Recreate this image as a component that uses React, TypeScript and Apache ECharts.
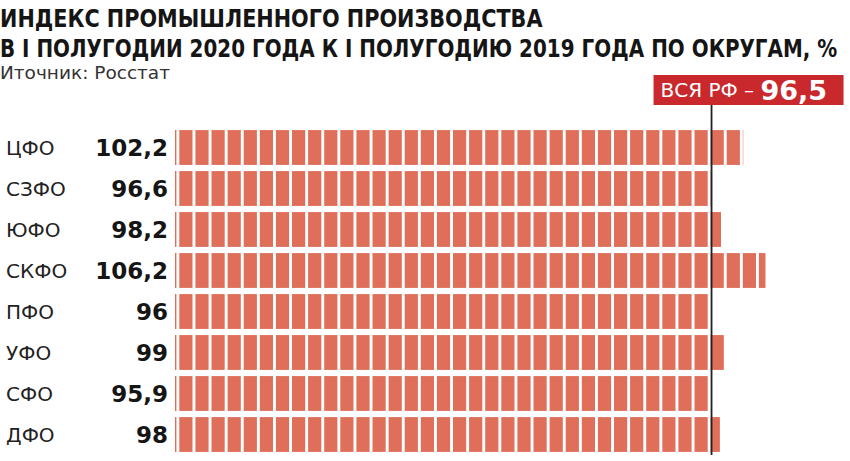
import React, { useEffect, useRef } from "react";
import * as echarts from "echarts";

const titleLines = [
  "ИНДЕКС ПРОМЫШЛЕННОГО ПРОИЗВОДСТВА",
  "В I ПОЛУГОДИИ 2020 ГОДА К I ПОЛУГОДИЮ 2019 ГОДА ПО ОКРУГАМ, %",
];
const titleWidths = [543, 838];
const sourceText = "Иточник: Росстат";
const categories = ["ЦФО", "СЗФО", "ЮФО", "СКФО", "ПФО", "УФО", "СФО", "ДФО"];
const values = [102.2, 96.6, 98.2, 106.2, 96, 99, 95.9, 98];
const russiaLabel = "ВСЯ РФ – ";
const russiaValue = 96.5;

const fmt = (v: number) => String(v).replace(".", ",");

const BAR_COLOR = "#df6e5a";
const RED = "#c9282d";
const TITLE_FONT_FAMILY = "DejaVu Sans Condensed";
const TITLE_FONT_SIZE = 25;

function measure(text: string, font: string): number {
  const c = document.createElement("canvas").getContext("2d");
  if (!c) return 1;
  c.font = font;
  return c.measureText(text).width || 1;
}

export default function App() {
  const ref = useRef<HTMLDivElement>(null);
  useEffect(() => {
    document.body.style.margin = "0";
    const chart = echarts.init(ref.current!, null, { renderer: "svg" });
    const titleFont = `bold ${TITLE_FONT_SIZE}px "${TITLE_FONT_FAMILY}"`;
    const titleGraphics = titleLines.map((line, i) => ({
      type: "text",
      x: 0,
      y: 6 + i * 30,
      scaleX: titleWidths[i] / measure(line, titleFont),
      style: {
        text: line,
        fontFamily: TITLE_FONT_FAMILY,
        fontWeight: "bold",
        fontSize: TITLE_FONT_SIZE,
        fill: "#151515",
        textVerticalAlign: "top",
        verticalAlign: "top",
      },
    }));
    const option: any = {
      animation: false,
      backgroundColor: "#ffffff",
      graphic: [
        ...titleGraphics,
        {
          type: "text",
          x: 0,
          y: 63,
          style: {
            text: sourceText,
            fontFamily: "DejaVu Sans",
            fontSize: 18.5,
            fill: "#333",
            verticalAlign: "top",
          },
        },
      ],
      grid: { left: 175, right: 7.8, top: 127, bottom: 6, containLabel: false },
      xAxis: { type: "value", min: 0, max: 120, show: false },
      yAxis: {
        type: "category",
        inverse: true,
        data: categories,
        axisLine: { show: false },
        axisTick: { show: false },
        splitLine: { show: false },
        axisLabel: {
          margin: 7,
          formatter: (name: string, i: number) => `{n|${name}}{v|${fmt(values[i])}}`,
          rich: {
            n: {
              width: 86,
              align: "left",
              fontFamily: "DejaVu Sans",
              fontSize: 20,
              color: "#222",
            },
            v: {
              width: 76,
              align: "right",
              fontFamily: "DejaVu Sans",
              fontWeight: "bold",
              fontSize: 23,
              color: "#151515",
            },
          },
        },
      },
      series: [
        {
          type: "custom",
          clip: false,
          encode: { x: 0, y: 1 },
          data: values.map((v, i) => [v, i]),
          renderItem: (params: any, api: any) => {
            const v = api.value(0);
            const idx = api.value(1);
            const start = api.coord([0, idx]);
            const end = api.coord([v, idx]);
            const h = api.size([0, 1])[1] * 0.85;
            const y = start[1] - h / 2;
            const children: any[] = [];
            const period = 16.1;
            const segW = 13.2;
            for (let k = -1; k < 200; k++) {
              const sx = start[0] + 4.3 + k * period;
              if (sx >= end[0]) break;
              const x0 = Math.max(sx, start[0]);
              const x1 = Math.min(sx + segW, end[0]);
              if (x1 - x0 > 0) {
                children.push({
                  type: "rect",
                  shape: { x: x0, y, width: x1 - x0, height: h },
                  style: { fill: BAR_COLOR },
                });
              }
            }
            return { type: "group", children };
          },
        },
        {
          type: "custom",
          clip: false,
          z: 5,
          encode: { x: 0, y: 1 },
          data: [[russiaValue, 0]],
          renderItem: (params: any, api: any) => {
            const cs = params.coordSys;
            const x = api.coord([api.value(0), 0])[0];
            const top = cs.y;
            const bottom = cs.y + cs.height;
            return {
              type: "group",
              children: [
                {
                  type: "line",
                  shape: { x1: x, y1: top - 22, x2: x, y2: bottom },
                  style: { stroke: "#222", lineWidth: 1.8 },
                },
                {
                  type: "rect",
                  shape: { x: x - 58, y: top - 52, width: 190, height: 30 },
                  style: { fill: RED },
                },
                {
                  type: "text",
                  x: x - 51,
                  y: top - 37,
                  style: {
                    text: `{a|${russiaLabel}}{b|${fmt(api.value(0))}}`,
                    align: "left",
                    verticalAlign: "middle",
                    rich: {
                      a: { fontFamily: "DejaVu Sans", fontSize: 20, fill: "#fff", color: "#fff" },
                      b: {
                        fontFamily: "DejaVu Sans",
                        fontWeight: "bold",
                        fontSize: 27,
                        fill: "#fff",
                        color: "#fff",
                      },
                    },
                  },
                },
              ],
            };
          },
        },
      ],
    };
    chart.setOption(option);
    return () => chart.dispose();
  }, []);
  return <div ref={ref} style={{ width: 850, height: 461 }} />;
}
